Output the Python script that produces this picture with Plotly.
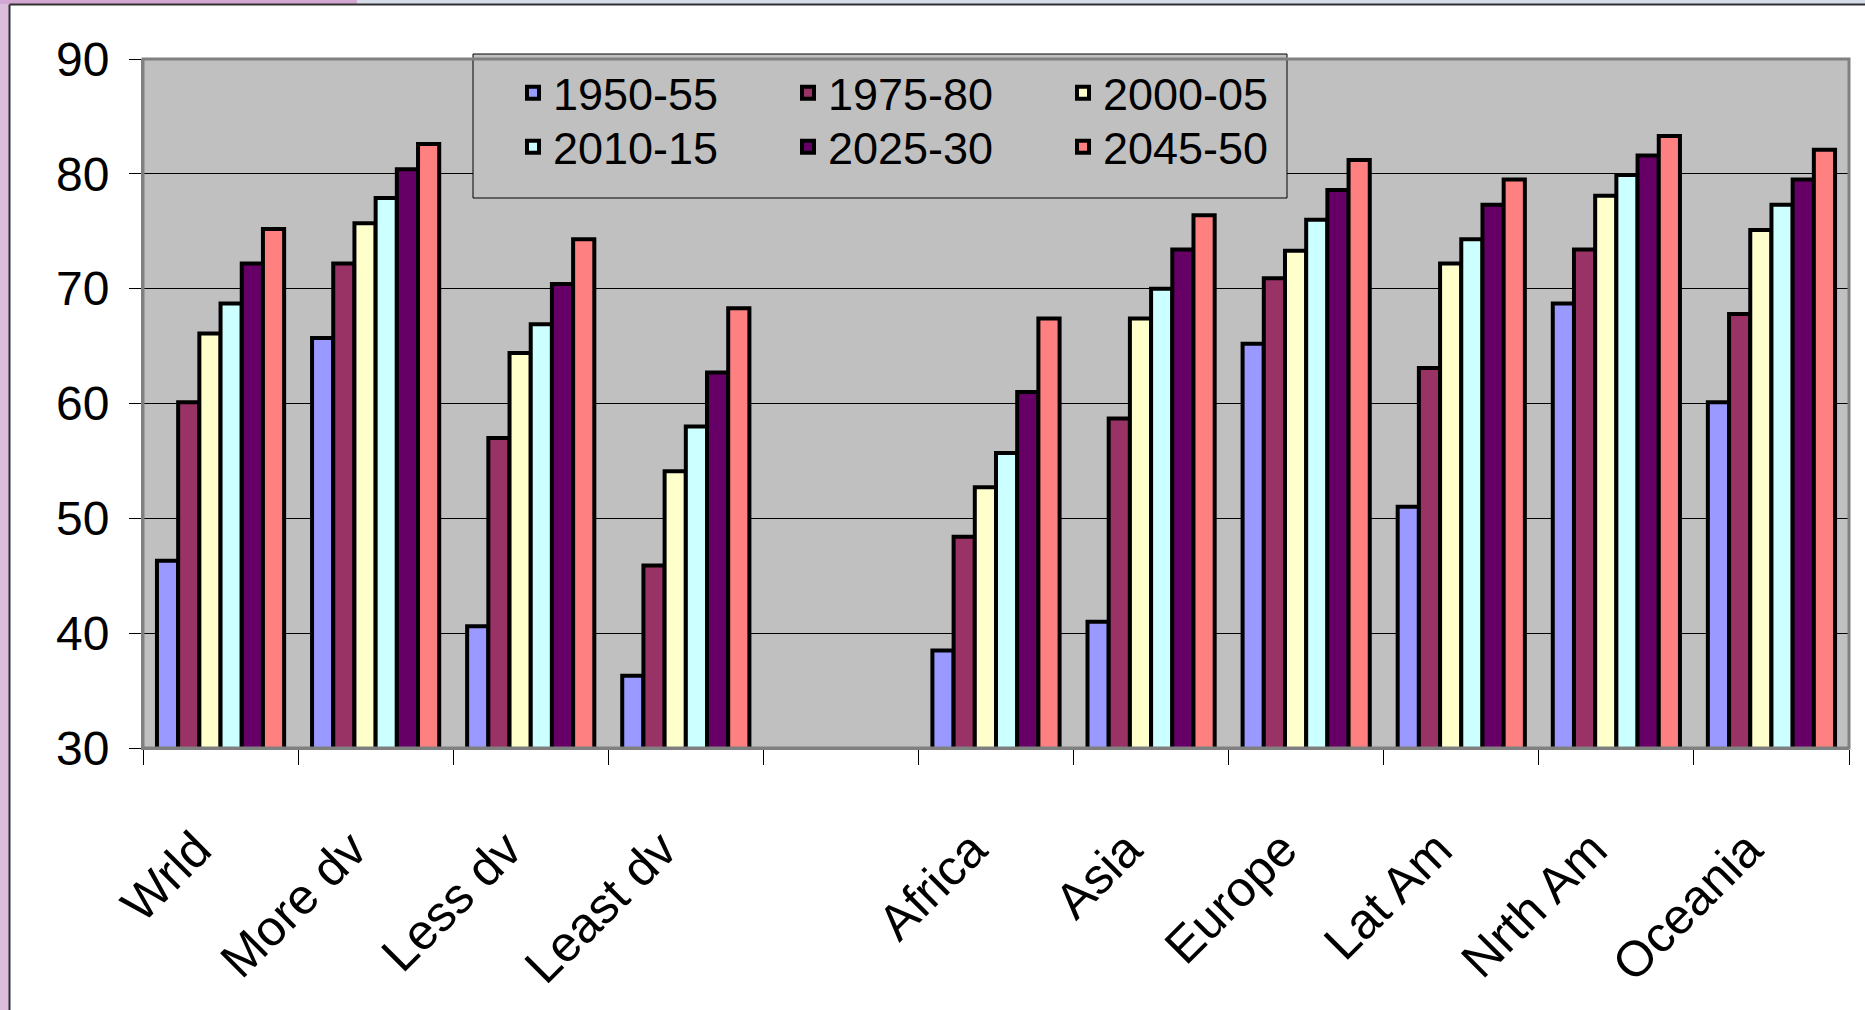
import plotly.graph_objects as go

categories = ["Wrld", "More dv", "Less dv", "Least dv", " ", "Africa", "Asia", "Europe", "Lat Am", "Nrth Am", "Oceania"]
periods = ["1950-55", "1975-80", "2000-05", "2010-15", "2025-30", "2045-50"]

v1950_55 = [46.3, 65.7, 40.6, 36.3, None, 38.5, 41.0, 65.2, 51.0, 68.7, 60.1]
v1975_80 = [60.1, 72.2, 57.0, 45.9, None, 48.4, 58.7, 70.9, 63.1, 73.4, 67.8]
v2000_05 = [66.1, 75.7, 64.4, 54.1, None, 52.7, 67.4, 73.3, 72.2, 78.1, 75.1]
v2010_15 = [68.7, 77.9, 66.9, 58.0, None, 55.7, 70.0, 76.0, 74.3, 79.9, 77.3]
v2025_30 = [72.2, 80.4, 70.4, 62.7, None, 61.0, 73.4, 78.6, 77.3, 81.6, 79.5]
v2045_50 = [75.2, 82.6, 74.3, 68.3, None, 67.4, 76.4, 81.2, 79.5, 83.3, 82.1]
series = [v1950_55, v1975_80, v2000_05, v2010_15, v2025_30, v2045_50]

colors = ["#9999ff", "#993366", "#ffffcc", "#ccffff", "#660066", "#ff8080"]

y_ticks = [30, 40, 50, 60, 70, 80, 90]

FONT = "Liberation Sans, Arial, sans-serif"

W_FIG, H_FIG = 1865, 1010
L, R, T, B = 143, 1849, 59, 748
PW, PH = R - L, B - T


def px_x(x):
    return (x - L) / PW


def px_y(y):
    return (B - y) / PH


fig = go.Figure()
for i, (name, vals, col) in enumerate(zip(periods, series, colors)):
    fig.add_trace(go.Bar(
        x=categories, y=vals, name=name,
        marker=dict(color=col, line=dict(color="black", width=4)),
        legend="legend" if i < 3 else "legend2",
    ))

shapes = [
    # legend box
    dict(type="rect", xref="paper", yref="paper", x0=px_x(473), x1=px_x(1287), y0=px_y(54), y1=px_y(198),
         fillcolor="#c0c0c0", line=dict(color="black", width=1), layer="above"),
    # plot frame
    dict(type="rect", xref="paper", yref="paper", x0=0, x1=1, y0=0, y1=1,
         line=dict(color="#808080", width=3), layer="above"),
    # slide frame strips
    dict(type="rect", xref="paper", yref="paper", x0=px_x(0), x1=px_x(9), y0=px_y(0), y1=px_y(1010),
         fillcolor="#dcbedc", line=dict(width=0), layer="below"),
    dict(type="rect", xref="paper", yref="paper", x0=px_x(0), x1=px_x(357), y0=px_y(0), y1=px_y(4),
         fillcolor="#d2a8d2", line=dict(width=0), layer="below"),
    dict(type="rect", xref="paper", yref="paper", x0=px_x(357), x1=px_x(1865), y0=px_y(0), y1=px_y(4),
         fillcolor="#d6dcea", line=dict(width=0), layer="below"),
    dict(type="line", xref="paper", yref="paper", x0=px_x(9.5), x1=px_x(9.5), y0=px_y(4.5), y1=px_y(1010),
         line=dict(color="#303030", width=2), layer="below"),
    dict(type="line", xref="paper", yref="paper", x0=px_x(9.5), x1=px_x(1865), y0=px_y(4.5), y1=px_y(4.5),
         line=dict(color="#303030", width=2), layer="below"),
]

legend_common = dict(
    orientation="h", xanchor="left", yanchor="middle",
    bgcolor="rgba(0,0,0,0)", borderwidth=0,
    font=dict(family=FONT, size=45, color="black"),
    entrywidth=230, entrywidthmode="pixels", itemwidth=30,
)

fig.update_layout(
    width=W_FIG, height=H_FIG,
    margin=dict(l=L, r=W_FIG - R, t=T, b=H_FIG - B, autoexpand=False),
    paper_bgcolor="white",
    plot_bgcolor="#c0c0c0",
    barmode="group", bargap=0.18, bargroupgap=0,
    font=dict(family=FONT, size=48, color="black"),
    legend=dict(x=px_x(513), y=px_y(93), **legend_common),
    legend2=dict(x=px_x(513), y=px_y(147), **legend_common),
    shapes=shapes,
    xaxis=dict(
        type="category", categoryorder="array", categoryarray=categories,
        tickson="boundaries", ticks="outside", ticklen=15, tickcolor="black", tickwidth=1,
        tickangle=-45, tickfont=dict(family=FONT, size=50, color="black"),
        ticklabelstandoff=50, ticklabelshift=-24,
        showline=True, linecolor="#808080", linewidth=2,
        showgrid=False, zeroline=False, automargin=False,
    ),
    yaxis=dict(
        range=[30, 90], tickvals=y_ticks, ticktext=[str(v) for v in y_ticks],
        ticks="outside", ticklen=12, tickcolor="black", tickwidth=1,
        tickfont=dict(family=FONT, size=48, color="black"),
        ticklabelstandoff=10,
        showgrid=True, gridcolor="black", gridwidth=1,
        showline=True, linecolor="#808080", linewidth=2,
        zeroline=False, automargin=False,
    ),
)

fig.write_html(
    "out.html",
    config={"displayModeBar": False},
    post_script="document.body.style.margin='0';document.body.style.overflow='hidden';",
)
